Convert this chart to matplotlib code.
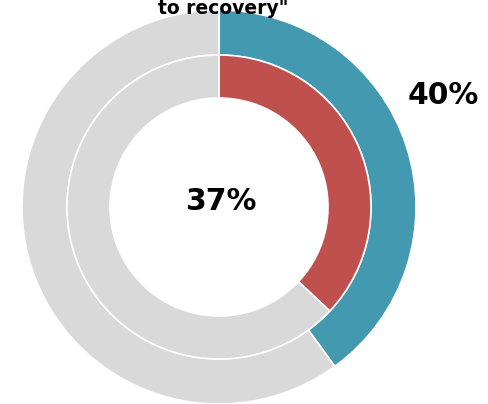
import matplotlib.pyplot as plt

# data
outer_vals = [40, 60]
inner_vals = [37, 63]
outer_label = "40%"
inner_label = "37%"
title_tail = 'to recovery"'

teal = "#4399B0"
red = "#C0504D"
grey = "#D9D9D9"

fig = plt.figure(figsize=(4.89, 4.04), dpi=100)
ax = fig.add_axes([0, 0, 1, 1])

cx, cy = 219, 404 - 207
ax.pie(outer_vals, colors=[teal, grey], radius=197, center=(cx, cy),
       startangle=90, counterclock=False,
       wedgeprops=dict(width=45, edgecolor="white", linewidth=1.2))
ax.pie(inner_vals, colors=[red, grey], radius=152, center=(cx, cy),
       startangle=90, counterclock=False,
       wedgeprops=dict(width=43, edgecolor="white", linewidth=1.2))

ax.set_xlim(0, 489)
ax.set_ylim(0, 404)
ax.set_aspect("equal")
ax.axis("off")

ax.text(cx + 2, 404 - 202, inner_label, ha="center", va="center",
        fontsize=21.5, fontweight="bold", color="black")
ax.text(443, 404 - 96, outer_label, ha="center", va="center",
        fontsize=21.5, fontweight="bold", color="black")
ax.text(223, 404 - 14, title_tail, ha="center", va="baseline",
        fontsize=13.5, fontweight="bold", color="black")

fig.savefig("out.png", dpi=100)
